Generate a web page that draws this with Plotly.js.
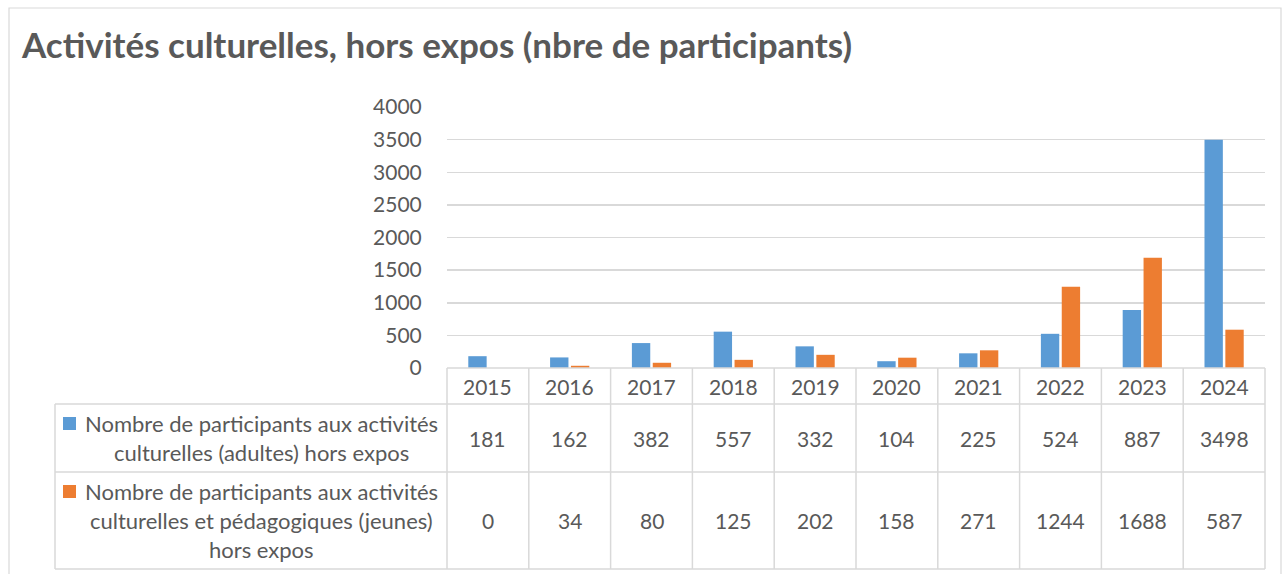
<!DOCTYPE html>
<html>
<head>
<meta charset="utf-8">
<script src="https://cdn.plot.ly/plotly-3.0.1.min.js"></script>
<style>html,body{margin:0;padding:0;background:#fff;}#chart{width:1285px;height:574px;}</style>
</head>
<body>
<div id="chart"></div>
<script>
var years = ["2015","2016","2017","2018","2019","2020","2021","2022","2023","2024"];
var adultes = [181,162,382,557,332,104,225,524,887,3498];
var jeunes = [0,34,80,125,202,158,271,1244,1688,587];
var seriesNames = [
  ["Nombre de participants aux activités", "culturelles (adultes) hors expos"],
  ["Nombre de participants aux activités", "culturelles et pédagogiques (jeunes)", "hors expos"]
];
var colors = ["#5B9BD5", "#ED7D31"];
var yTicks = [0,500,1000,1500,2000,2500,3000,3500,4000];

var W = 1285, H = 574;
var L = 447, R = 1265, T = 107, B = 368;
var PW = R - L, PH = B - T;
function px(x){ return (x - L) / PW; }
function py(y){ return (B - y) / PH; }

var txt = "#595959", grid = "#D9D9D9";
var font = "Lato, 'Open Sans', sans-serif";

var traces = [
  {type:"bar", x:years, y:adultes, name:seriesNames[0].join(" "), marker:{color:colors[0]}, hoverinfo:"none"},
  {type:"bar", x:years, y:jeunes, name:seriesNames[1].join(" "), marker:{color:colors[1]}, hoverinfo:"none"}
];

var shapes = [];
var annotations = [];
function hline(y, x0, x1){ shapes.push({type:"line", xref:"paper", yref:"paper", x0:px(x0), x1:px(x1), y0:py(y), y1:py(y), line:{color:grid, width:1.5}}); }
function vline(x, y0, y1){ shapes.push({type:"line", xref:"paper", yref:"paper", x0:x, x1:x, y0:py(y0), y1:py(y1), line:{color:grid, width:1.5}}); }

// outer chart border
shapes.push({type:"rect", xref:"paper", yref:"paper", x0:px(9), x1:px(1281), y0:py(8), y1:py(590), line:{color:grid, width:1.2}, layer:"below"});

// table rows
var rowYears = [368, 404], row1 = [404, 472], row2 = [472, 569];
hline(368, L, R);
hline(404, 55, R);
hline(472, 55, R);
hline(569, 55, R);
vline(px(55), 404, 569);
for (var k = 0; k <= years.length; k++) vline(k / years.length, 368, 569);

// year labels and values
var numFont = {family:font, size:21, color:txt};
years.forEach(function(yr, i){
  var cx = (i + 0.5) / years.length;
  annotations.push({xref:"paper", yref:"paper", x:cx, y:py((rowYears[0]+rowYears[1])/2), text:yr, showarrow:false, font:numFont, xanchor:"center", yanchor:"middle"});
  annotations.push({xref:"paper", yref:"paper", x:cx, y:py((row1[0]+row1[1])/2), text:String(adultes[i]), showarrow:false, font:numFont, xanchor:"center", yanchor:"middle"});
  annotations.push({xref:"paper", yref:"paper", x:cx, y:py((row2[0]+row2[1])/2), text:String(jeunes[i]), showarrow:false, font:numFont, xanchor:"center", yanchor:"middle"});
});

// series name cells with legend keys
var labFont = {family:font, size:22, color:txt};
var lineH = 29;
[row1, row2].forEach(function(row, s){
  var lines = seriesNames[s];
  var mid = (row[0]+row[1])/2;
  var first = mid - (lines.length-1)*lineH/2;
  lines.forEach(function(t, j){
    annotations.push({xref:"paper", yref:"paper", x:px(261), y:py(first + j*lineH), text:t, showarrow:false, font:labFont, xanchor:"center", yanchor:"middle"});
  });
  shapes.push({type:"rect", xref:"paper", yref:"paper", x0:px(63), x1:px(76), y0:py(first-6.5), y1:py(first+6.5), fillcolor:colors[s], line:{width:0}});
});

var layout = {
  width:W, height:H,
  margin:{l:L, r:W-R, t:T, b:H-B, pad:0},
  paper_bgcolor:"#fff", plot_bgcolor:"#fff",
  title:{text:"Activités culturelles, hors expos (nbre de participants)", font:{family:font, size:35, color:txt, weight:"bold"}, x:22/W, xref:"container", xanchor:"left", y:1-46/H, yref:"container", yanchor:"middle"},
  showlegend:false,
  barmode:"group", bargap:0.49, bargroupgap:0.12,
  xaxis:{type:"category", categoryorder:"array", categoryarray:years, range:[-0.5, years.length-0.5], showticklabels:false, showgrid:false, zeroline:false, showline:false, ticks:"", fixedrange:true},
  yaxis:{range:[0,4000], tickvals:yTicks, ticktext:yTicks.map(String), showgrid:true, gridcolor:grid, gridwidth:1.5, zeroline:false, showline:false,
         ticks:"outside", ticklen:20, tickcolor:"rgba(0,0,0,0)", tickfont:{family:font, size:21, color:txt}, fixedrange:true},
  shapes:shapes, annotations:annotations,
  hovermode:false
};

Plotly.newPlot("chart", traces, layout, {displayModeBar:false, staticPlot:true});
</script>
</body>
</html>
